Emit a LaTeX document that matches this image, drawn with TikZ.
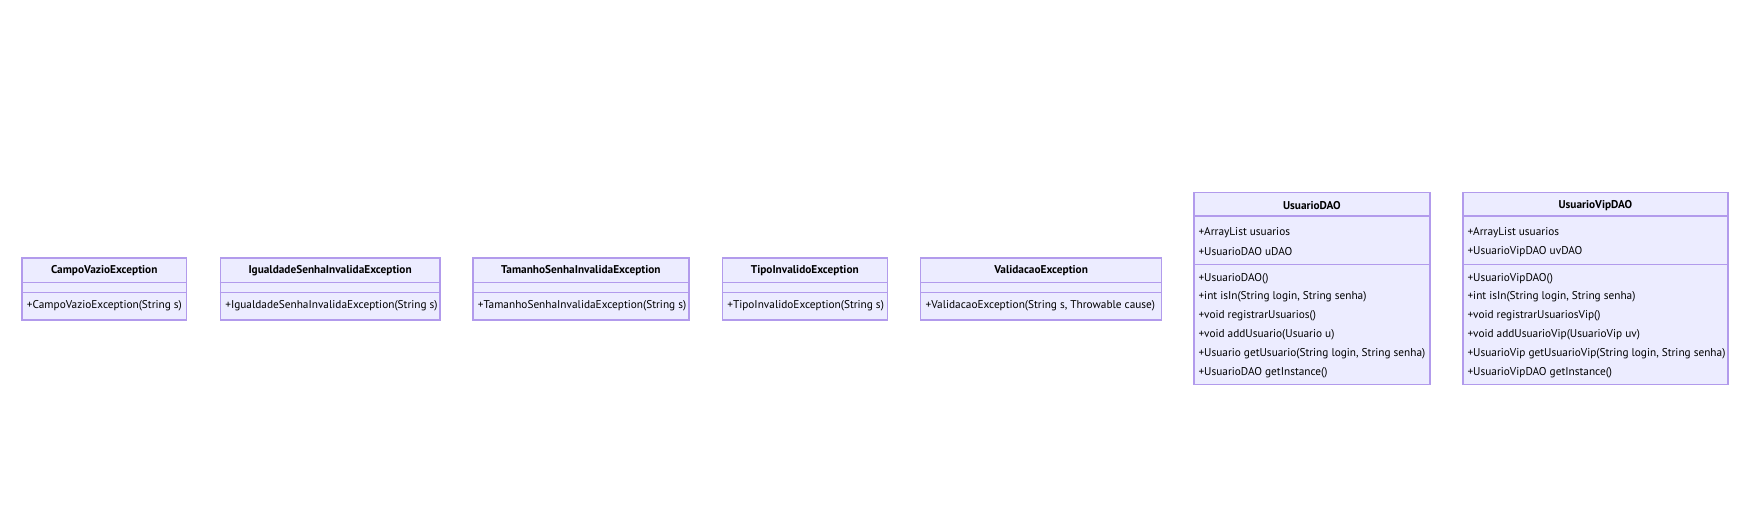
\documentclass[tikz,border=0pt]{standalone}
\usepackage{fontspec}
\setmainfont{PT Sans}
\usetikzlibrary{positioning}
\definecolor{classfill}{HTML}{ECECFF}
\definecolor{classline}{HTML}{B29BEC}
\tikzset{
  classbox/.style={draw=classline, fill=classfill, line width=1.2pt, anchor=north west, inner sep=0pt},
  divider/.style={draw=classline, line width=1.2pt},
  classtitle/.style={font=\fontsize{11.3}{13}\selectfont\bfseries, inner sep=0pt},
  member/.style={font=\fontsize{11.3}{13}\selectfont, anchor=west, inner sep=0pt}
}

\begin{document}
\begin{tikzpicture}[x=1pt,y=-1pt]
\useasboundingbox (0,0) rectangle (1745,528);

% exceptions
\node[classbox, minimum width=164.7pt, minimum height=62pt] (campo) at (21.3,257.3) {};
\draw[divider] ([yshift=-25pt]campo.north west) -- ([yshift=-25pt]campo.north east);
\draw[divider] ([yshift=-35.4pt]campo.north west) -- ([yshift=-35.4pt]campo.north east);
\node[classtitle] (camponame) at ([yshift=-13.7pt]campo.north) {CampoVazioException};
\node[member] (campoop) at ([xshift=5.4pt,yshift=-48.7pt]campo.north west) {+CampoVazioException(String s)};

\node[classbox, minimum width=219.6pt, minimum height=62pt] (igual) at (219.7,257.3) {};
\draw[divider] ([yshift=-25pt]igual.north west) -- ([yshift=-25pt]igual.north east);
\draw[divider] ([yshift=-35.4pt]igual.north west) -- ([yshift=-35.4pt]igual.north east);
\node[classtitle] (igualname) at ([yshift=-13.7pt]igual.north) {IgualdadeSenhaInvalidaException};
\node[member] (igualop) at ([xshift=5.4pt,yshift=-48.7pt]igual.north west) {+IgualdadeSenhaInvalidaException(String s)};

\node[classbox, minimum width=216pt, minimum height=62pt] (tamanho) at (472.3,257.3) {};
\draw[divider] ([yshift=-25pt]tamanho.north west) -- ([yshift=-25pt]tamanho.north east);
\draw[divider] ([yshift=-35.4pt]tamanho.north west) -- ([yshift=-35.4pt]tamanho.north east);
\node[classtitle] (tamanhoname) at ([yshift=-13.7pt]tamanho.north) {TamanhoSenhaInvalidaException};
\node[member] (tamanhoop) at ([xshift=5.4pt,yshift=-48.7pt]tamanho.north west) {+TamanhoSenhaInvalidaException(String s)};

\node[classbox, minimum width=165pt, minimum height=62pt] (tipo) at (721.7,257.3) {};
\draw[divider] ([yshift=-25pt]tipo.north west) -- ([yshift=-25pt]tipo.north east);
\draw[divider] ([yshift=-35.4pt]tipo.north west) -- ([yshift=-35.4pt]tipo.north east);
\node[classtitle] (tiponame) at ([yshift=-13.7pt]tipo.north) {TipoInvalidoException};
\node[member] (tipoop) at ([xshift=5.4pt,yshift=-48.7pt]tipo.north west) {+TipoInvalidoException(String s)};

\node[classbox, minimum width=241pt, minimum height=62pt] (valid) at (920,257.3) {};
\draw[divider] ([yshift=-25pt]valid.north west) -- ([yshift=-25pt]valid.north east);
\draw[divider] ([yshift=-35.4pt]valid.north west) -- ([yshift=-35.4pt]valid.north east);
\node[classtitle] (validname) at ([yshift=-13.7pt]valid.north) {ValidacaoException};
\node[member] (validop) at ([xshift=5.4pt,yshift=-48.7pt]valid.north west) {+ValidacaoException(String s, Throwable cause)};

% UsuarioDAO
\node[classbox, minimum width=236pt, minimum height=192.3pt] (dao) at (1193.3,191.7) {};
\draw[divider] ([yshift=-24.3pt]dao.north west) -- ([yshift=-24.3pt]dao.north east);
\draw[divider] ([yshift=-72.6pt]dao.north west) -- ([yshift=-72.6pt]dao.north east);
\node[classtitle] (daoname) at ([yshift=-14.3pt]dao.north) {UsuarioDAO};
\node[member] (daoa1) at ([xshift=5pt,yshift=-40.6pt]dao.north west) {+ArrayList usuarios};
\node[member] (daoa2) at ([xshift=5pt,yshift=-60pt]dao.north west) {+UsuarioDAO uDAO};
\node[member] (daom1) at ([xshift=5pt,yshift=-87.3pt]dao.north west) {+UsuarioDAO()};
\node[member] (daom2) at ([xshift=5pt,yshift=-105pt]dao.north west) {+int isIn(String login, String senha)};
\node[member] (daom3) at ([xshift=5pt,yshift=-124.3pt]dao.north west) {+void registrarUsuarios()};
\node[member] (daom4) at ([xshift=5pt,yshift=-143.3pt]dao.north west) {+void addUsuario(Usuario u)};
\node[member] (daom5) at ([xshift=5pt,yshift=-162.3pt]dao.north west) {+Usuario getUsuario(String login, String senha)};
\node[member] (daom6) at ([xshift=5pt,yshift=-180.6pt]dao.north west) {+UsuarioDAO getInstance()};

% UsuarioVipDAO
\node[classbox, minimum width=265pt, minimum height=192.3pt] (vip) at (1462.3,191.7) {};
\draw[divider] ([yshift=-24.3pt]vip.north west) -- ([yshift=-24.3pt]vip.north east);
\draw[divider] ([yshift=-72.6pt]vip.north west) -- ([yshift=-72.6pt]vip.north east);
\node[classtitle] (vipname) at ([yshift=-14.3pt]vip.north) {UsuarioVipDAO};
\node[member] (vipa1) at ([xshift=5pt,yshift=-40.6pt]vip.north west) {+ArrayList usuarios};
\node[member] (vipa2) at ([xshift=5pt,yshift=-60pt]vip.north west) {+UsuarioVipDAO uvDAO};
\node[member] (vipm1) at ([xshift=5pt,yshift=-87.3pt]vip.north west) {+UsuarioVipDAO()};
\node[member] (vipm2) at ([xshift=5pt,yshift=-105pt]vip.north west) {+int isIn(String login, String senha)};
\node[member] (vipm3) at ([xshift=5pt,yshift=-124.3pt]vip.north west) {+void registrarUsuariosVip()};
\node[member] (vipm4) at ([xshift=5pt,yshift=-143.3pt]vip.north west) {+void addUsuarioVip(UsuarioVip uv)};
\node[member] (vipm5) at ([xshift=5pt,yshift=-162.3pt]vip.north west) {+UsuarioVip getUsuarioVip(String login, String senha)};
\node[member] (vipm6) at ([xshift=5pt,yshift=-180.6pt]vip.north west) {+UsuarioVipDAO getInstance()};
\end{tikzpicture}
\end{document}
